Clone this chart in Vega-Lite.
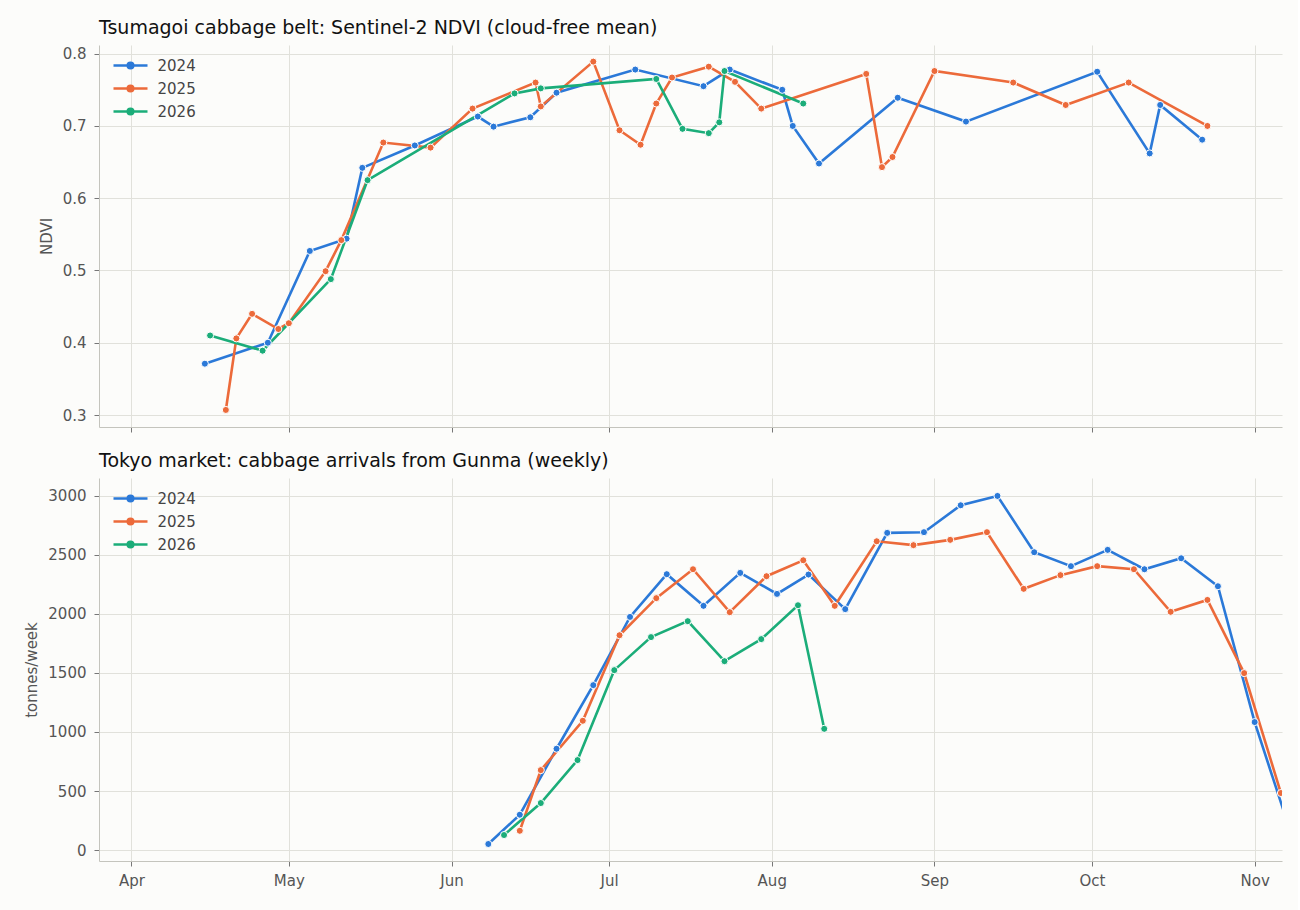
{
  "$schema": "https://vega.github.io/schema/vega-lite/v6.json",
  "background": "#fcfcfa",
  "padding": {"left": 24, "top": 19, "right": 16, "bottom": 22},
  "datasets": {
    "ndvi": [
      {"date": "2024-04-15", "year": "2024", "ndvi": 0.371},
      {"date": "2024-04-27", "year": "2024", "ndvi": 0.400},
      {"date": "2024-05-05", "year": "2024", "ndvi": 0.527},
      {"date": "2024-05-12", "year": "2024", "ndvi": 0.544},
      {"date": "2024-05-15", "year": "2024", "ndvi": 0.642},
      {"date": "2024-05-25", "year": "2024", "ndvi": 0.673},
      {"date": "2024-06-06", "year": "2024", "ndvi": 0.713},
      {"date": "2024-06-09", "year": "2024", "ndvi": 0.699},
      {"date": "2024-06-16", "year": "2024", "ndvi": 0.712},
      {"date": "2024-06-21", "year": "2024", "ndvi": 0.746},
      {"date": "2024-07-06", "year": "2024", "ndvi": 0.778},
      {"date": "2024-07-19", "year": "2024", "ndvi": 0.755},
      {"date": "2024-07-24", "year": "2024", "ndvi": 0.778},
      {"date": "2024-08-03", "year": "2024", "ndvi": 0.750},
      {"date": "2024-08-05", "year": "2024", "ndvi": 0.700},
      {"date": "2024-08-10", "year": "2024", "ndvi": 0.648},
      {"date": "2024-08-25", "year": "2024", "ndvi": 0.739},
      {"date": "2024-09-07", "year": "2024", "ndvi": 0.706},
      {"date": "2024-10-02", "year": "2024", "ndvi": 0.775},
      {"date": "2024-10-12", "year": "2024", "ndvi": 0.662},
      {"date": "2024-10-14", "year": "2024", "ndvi": 0.729},
      {"date": "2024-10-22", "year": "2024", "ndvi": 0.681},
      {"date": "2025-04-19", "year": "2025", "ndvi": 0.307},
      {"date": "2025-04-21", "year": "2025", "ndvi": 0.406},
      {"date": "2025-04-24", "year": "2025", "ndvi": 0.440},
      {"date": "2025-04-29", "year": "2025", "ndvi": 0.419},
      {"date": "2025-05-01", "year": "2025", "ndvi": 0.427},
      {"date": "2025-05-08", "year": "2025", "ndvi": 0.499},
      {"date": "2025-05-11", "year": "2025", "ndvi": 0.542},
      {"date": "2025-05-19", "year": "2025", "ndvi": 0.677},
      {"date": "2025-05-28", "year": "2025", "ndvi": 0.670},
      {"date": "2025-06-05", "year": "2025", "ndvi": 0.724},
      {"date": "2025-06-17", "year": "2025", "ndvi": 0.760},
      {"date": "2025-06-18", "year": "2025", "ndvi": 0.727},
      {"date": "2025-06-28", "year": "2025", "ndvi": 0.789},
      {"date": "2025-07-03", "year": "2025", "ndvi": 0.694},
      {"date": "2025-07-07", "year": "2025", "ndvi": 0.674},
      {"date": "2025-07-10", "year": "2025", "ndvi": 0.731},
      {"date": "2025-07-13", "year": "2025", "ndvi": 0.767},
      {"date": "2025-07-20", "year": "2025", "ndvi": 0.782},
      {"date": "2025-07-25", "year": "2025", "ndvi": 0.761},
      {"date": "2025-07-30", "year": "2025", "ndvi": 0.724},
      {"date": "2025-08-19", "year": "2025", "ndvi": 0.772},
      {"date": "2025-08-22", "year": "2025", "ndvi": 0.643},
      {"date": "2025-08-24", "year": "2025", "ndvi": 0.657},
      {"date": "2025-09-01", "year": "2025", "ndvi": 0.776},
      {"date": "2025-09-16", "year": "2025", "ndvi": 0.760},
      {"date": "2025-09-26", "year": "2025", "ndvi": 0.729},
      {"date": "2025-10-08", "year": "2025", "ndvi": 0.760},
      {"date": "2025-10-23", "year": "2025", "ndvi": 0.700},
      {"date": "2026-04-16", "year": "2026", "ndvi": 0.410},
      {"date": "2026-04-26", "year": "2026", "ndvi": 0.389},
      {"date": "2026-05-09", "year": "2026", "ndvi": 0.488},
      {"date": "2026-05-16", "year": "2026", "ndvi": 0.625},
      {"date": "2026-06-13", "year": "2026", "ndvi": 0.745},
      {"date": "2026-06-18", "year": "2026", "ndvi": 0.752},
      {"date": "2026-07-10", "year": "2026", "ndvi": 0.765},
      {"date": "2026-07-15", "year": "2026", "ndvi": 0.696},
      {"date": "2026-07-20", "year": "2026", "ndvi": 0.690},
      {"date": "2026-07-22", "year": "2026", "ndvi": 0.705},
      {"date": "2026-07-23", "year": "2026", "ndvi": 0.776},
      {"date": "2026-08-07", "year": "2026", "ndvi": 0.731}
    ],
    "arrivals": [
      {"date": "2024-06-08", "year": "2024", "tonnes": 51},
      {"date": "2024-06-14", "year": "2024", "tonnes": 299},
      {"date": "2024-06-21", "year": "2024", "tonnes": 858},
      {"date": "2024-06-28", "year": "2024", "tonnes": 1397},
      {"date": "2024-07-05", "year": "2024", "tonnes": 1975},
      {"date": "2024-07-12", "year": "2024", "tonnes": 2337},
      {"date": "2024-07-19", "year": "2024", "tonnes": 2069},
      {"date": "2024-07-26", "year": "2024", "tonnes": 2348},
      {"date": "2024-08-02", "year": "2024", "tonnes": 2170},
      {"date": "2024-08-08", "year": "2024", "tonnes": 2334},
      {"date": "2024-08-15", "year": "2024", "tonnes": 2041},
      {"date": "2024-08-23", "year": "2024", "tonnes": 2687},
      {"date": "2024-08-30", "year": "2024", "tonnes": 2693},
      {"date": "2024-09-06", "year": "2024", "tonnes": 2921},
      {"date": "2024-09-13", "year": "2024", "tonnes": 3000},
      {"date": "2024-09-20", "year": "2024", "tonnes": 2523},
      {"date": "2024-09-27", "year": "2024", "tonnes": 2405},
      {"date": "2024-10-04", "year": "2024", "tonnes": 2543},
      {"date": "2024-10-11", "year": "2024", "tonnes": 2379},
      {"date": "2024-10-18", "year": "2024", "tonnes": 2472},
      {"date": "2024-10-25", "year": "2024", "tonnes": 2235},
      {"date": "2024-11-01", "year": "2024", "tonnes": 1084},
      {"date": "2024-11-08", "year": "2024", "tonnes": 130},
      {"date": "2025-06-14", "year": "2025", "tonnes": 163},
      {"date": "2025-06-18", "year": "2025", "tonnes": 677},
      {"date": "2025-06-26", "year": "2025", "tonnes": 1095},
      {"date": "2025-07-03", "year": "2025", "tonnes": 1820},
      {"date": "2025-07-10", "year": "2025", "tonnes": 2134},
      {"date": "2025-07-17", "year": "2025", "tonnes": 2379},
      {"date": "2025-07-24", "year": "2025", "tonnes": 2015},
      {"date": "2025-07-31", "year": "2025", "tonnes": 2320},
      {"date": "2025-08-07", "year": "2025", "tonnes": 2455},
      {"date": "2025-08-13", "year": "2025", "tonnes": 2069},
      {"date": "2025-08-21", "year": "2025", "tonnes": 2616},
      {"date": "2025-08-28", "year": "2025", "tonnes": 2583},
      {"date": "2025-09-04", "year": "2025", "tonnes": 2628},
      {"date": "2025-09-11", "year": "2025", "tonnes": 2693},
      {"date": "2025-09-18", "year": "2025", "tonnes": 2213},
      {"date": "2025-09-25", "year": "2025", "tonnes": 2329},
      {"date": "2025-10-02", "year": "2025", "tonnes": 2405},
      {"date": "2025-10-09", "year": "2025", "tonnes": 2379},
      {"date": "2025-10-16", "year": "2025", "tonnes": 2018},
      {"date": "2025-10-23", "year": "2025", "tonnes": 2119},
      {"date": "2025-10-30", "year": "2025", "tonnes": 1499},
      {"date": "2025-11-06", "year": "2025", "tonnes": 483},
      {"date": "2026-06-11", "year": "2026", "tonnes": 127},
      {"date": "2026-06-18", "year": "2026", "tonnes": 398},
      {"date": "2026-06-25", "year": "2026", "tonnes": 762},
      {"date": "2026-07-02", "year": "2026", "tonnes": 1524},
      {"date": "2026-07-09", "year": "2026", "tonnes": 1804},
      {"date": "2026-07-16", "year": "2026", "tonnes": 1939},
      {"date": "2026-07-23", "year": "2026", "tonnes": 1600},
      {"date": "2026-07-30", "year": "2026", "tonnes": 1787},
      {"date": "2026-08-06", "year": "2026", "tonnes": 2074},
      {"date": "2026-08-11", "year": "2026", "tonnes": 1027}
    ]
  },
  "vconcat": [
    {
      "width": 1183,
      "height": 382,
      "title": "Tsumagoi cabbage belt: Sentinel-2 NDVI (cloud-free mean)",
      "data": {"name": "ndvi"},
      "encoding": {
        "x": {
          "field": "date", "timeUnit": "utcmonthdate", "type": "temporal",
          "scale": {"domain": [
            {"year": 2012, "month": 3, "date": 25, "hours": 20, "utc": true},
            {"year": 2012, "month": 11, "date": 6, "hours": 5, "utc": true}
          ]},
          "axis": {"labels": false, "title": null, "tickCount": "month"}
        },
        "y": {
          "field": "ndvi", "type": "quantitative", "title": "NDVI",
          "scale": {"domain": [0.2834, 0.812], "nice": false, "zero": false},
          "axis": {"values": [0.3, 0.4, 0.5, 0.6, 0.7, 0.8], "format": ".1f"}
        },
        "color": {
          "field": "year", "type": "nominal",
          "scale": {"domain": ["2024", "2025", "2026"], "range": ["#2b79d8", "#ec6a3a", "#1bad79"]},
          "legend": {
            "title": null, "orient": "none", "legendX": 21.5, "legendY": 10.5,
            "symbolType": "M-2,0H-0.33M0.33,0H2M-0.33,0A0.33,0.33 0 1,1 0.33,0A0.33,0.33 0 1,1 -0.33,0Z",
            "symbolSize": 289, "symbolStrokeWidth": 2.5, "labelOffset": 17, "rowPadding": 5,
            "labelFontSize": 15, "labelColor": "#444444",
            "encode": {"symbols": {"update": {"fill": [
              {"test": "datum.value === '2024'", "value": "#2b79d8"},
              {"test": "datum.value === '2025'", "value": "#ec6a3a"},
              {"value": "#1bad79"}
            ]}}}
          }
        }
      },
      "layer": [
        {"mark": {"type": "line", "strokeWidth": 2.6, "clip": true}},
        {"mark": {"type": "point", "filled": true, "size": 50, "opacity": 1, "stroke": "white", "strokeWidth": 1, "clip": true}}
      ]
    },
    {
      "width": 1183,
      "height": 383,
      "title": "Tokyo market: cabbage arrivals from Gunma (weekly)",
      "data": {"name": "arrivals"},
      "encoding": {
        "x": {
          "field": "date", "timeUnit": "utcmonthdate", "type": "temporal",
          "scale": {"domain": [
            {"year": 2012, "month": 3, "date": 25, "hours": 20, "utc": true},
            {"year": 2012, "month": 11, "date": 6, "hours": 5, "utc": true}
          ]},
          "axis": {"format": "%b", "title": null, "tickCount": "month", "labelPadding": 7}
        },
        "y": {
          "field": "tonnes", "type": "quantitative", "title": "tonnes/week",
          "scale": {"domain": [-93, 3152], "nice": false, "zero": false},
          "axis": {"values": [0, 500, 1000, 1500, 2000, 2500, 3000], "format": "d"}
        },
        "color": {
          "field": "year", "type": "nominal",
          "scale": {"domain": ["2024", "2025", "2026"], "range": ["#2b79d8", "#ec6a3a", "#1bad79"]},
          "legend": {
            "title": null, "orient": "none", "legendX": 21.5, "legendY": 10.5,
            "symbolType": "M-2,0H-0.33M0.33,0H2M-0.33,0A0.33,0.33 0 1,1 0.33,0A0.33,0.33 0 1,1 -0.33,0Z",
            "symbolSize": 289, "symbolStrokeWidth": 2.5, "labelOffset": 17, "rowPadding": 5,
            "labelFontSize": 15, "labelColor": "#444444",
            "encode": {"symbols": {"update": {"fill": [
              {"test": "datum.value === '2024'", "value": "#2b79d8"},
              {"test": "datum.value === '2025'", "value": "#ec6a3a"},
              {"value": "#1bad79"}
            ]}}}
          }
        }
      },
      "layer": [
        {"mark": {"type": "line", "strokeWidth": 2.6, "clip": true}},
        {"mark": {"type": "point", "filled": true, "size": 50, "opacity": 1, "stroke": "white", "strokeWidth": 1, "clip": true}}
      ]
    }
  ],
  "spacing": 19,
  "resolve": {"legend": {"color": "independent"}},
  "config": {
    "font": "DejaVu Sans",
    "view": {"stroke": null},
    "title": {"anchor": "start", "frame": "group", "fontSize": 19, "fontWeight": "normal", "color": "#111111", "offset": 7},
    "axis": {
      "labelFontSize": 15, "labelColor": "#555555", "titleFontSize": 15, "titleFontWeight": "normal",
      "titleColor": "#555555", "gridColor": "#e1e1db", "domainColor": "#c4c4bd", "tickColor": "#777777",
      "tickSize": 5, "labelPadding": 8, "titlePadding": 8
    }
  }
}
